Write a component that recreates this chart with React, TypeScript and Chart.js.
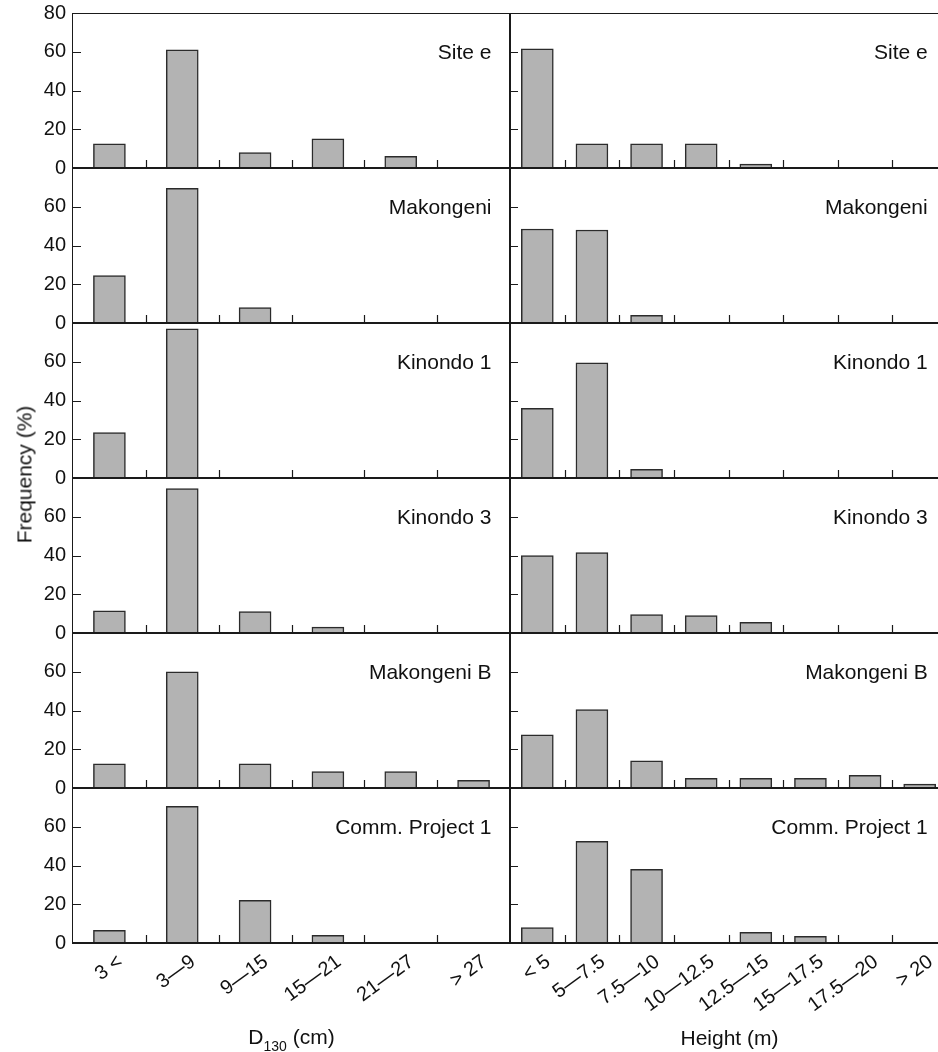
import React, { useEffect, useRef } from 'react';
import { Chart, registerables } from 'chart.js';

Chart.register(...registerables);

// ---------------- data ----------------
const sites = ['Site e', 'Makongeni', 'Kinondo 1', 'Kinondo 3', 'Makongeni B', 'Comm. Project 1'];
const diameterClasses = ['3 <', '3—9', '9—15', '15—21', '21—27', '> 27'];
const heightClasses = ['< 5', '5—7.5', '7.5—10', '10—12.5', '12.5—15', '15—17.5', '17.5—20', '> 20'];
const yTicks = [0, 20, 40, 60, 80];

const siteE_D = [12.5, 61, 8, 15, 6, 0];
const makongeni_D = [24.5, 69.5, 8, 0, 0, 0];
const kinondo1_D = [23.5, 77, 0, 0, 0, 0];
const kinondo3_D = [11.5, 74.5, 11, 3, 0, 0];
const makongeniB_D = [12.5, 60, 12.5, 8.5, 8.5, 4];
const commProject1_D = [6.5, 70.5, 22, 4, 0, 0];

const siteE_H = [61.5, 12.5, 12.5, 12.5, 2, 0, 0, 0];
const makongeni_H = [48.5, 48, 4, 0, 0, 0, 0, 0];
const kinondo1_H = [36, 59.5, 4.5, 0, 0, 0, 0, 0];
const kinondo3_H = [40, 41.5, 9.5, 9, 5.5, 0, 0, 0];
const makongeniB_H = [27.5, 40.5, 14, 5, 5, 5, 6.5, 2];
const commProject1_H = [8, 52.5, 38, 0, 5.5, 3.5, 0, 0];

const diameterSeries = [siteE_D, makongeni_D, kinondo1_D, kinondo3_D, makongeniB_D, commProject1_D];
const heightSeries = [siteE_H, makongeni_H, kinondo1_H, kinondo3_H, makongeniB_H, commProject1_H];

// ---------------- layout / style ----------------
const FONT = "'Liberation Sans', Arial, Helvetica, sans-serif";
const TEXT = '#111111';
const LINE = '#1a1a1a';
const TOP = 13;
const ROW_H = 155;
const LEFT_X = 73;
const MID_X = 510;
const PLOT_W = 437;
const PAD_T = 24;
const PAD_B = 24;
const PAD_R = 10;
const RIGHT_LM = 40;
const X_AXIS_H = 80;
const ROT = 36;

Chart.defaults.font.family = FONT;

function framePlugin(row: number, col: number) {
  return {
    id: 'frame' + row + '_' + col,
    afterDatasetsDraw(chart: any) {
      const { ctx, chartArea, scales } = chart;
      const { left, right, top, bottom } = chartArea;
      const seg = (x1: number, y1: number, x2: number, y2: number) => {
        ctx.beginPath();
        ctx.moveTo(x1, y1);
        ctx.lineTo(x2, y2);
        ctx.stroke();
      };
      ctx.save();
      ctx.strokeStyle = LINE;
      ctx.lineCap = 'butt';
      // inward y ticks
      ctx.lineWidth = 1;
      yTicks
        .filter((v) => v > 0 && v < 80)
        .forEach((v) => {
          const y = Math.round(scales.y.getPixelForValue(v)) + 0.5;
          seg(left, y, left + 8, y);
        });
      // inward x ticks between categories
      const n = chart.data.labels.length;
      ctx.lineWidth = 1.2;
      for (let i = 1; i < n; i++) {
        const x = Math.round((scales.x.getPixelForValue(i - 1) + scales.x.getPixelForValue(i)) / 2) + 0.5;
        seg(x, bottom, x, bottom - 8);
      }
      // vertical axis line
      if (col === 0) {
        ctx.lineWidth = 1;
        seg(left - 0.5, top, left - 0.5, bottom + 1);
      } else {
        ctx.lineWidth = 2;
        seg(left, top, left, bottom + 1);
      }
      // top frame line
      if (row === 0) {
        ctx.lineWidth = 1;
        seg(left - 1, top + 0.5, right, top + 0.5);
      }
      // zero line
      ctx.lineWidth = 2;
      seg(left - 1, bottom, right, bottom);
      ctx.restore();
    },
  };
}

function Panel({ row, col }: { row: number; col: number }) {
  const ref = useRef<HTMLCanvasElement | null>(null);
  const isLeft = col === 0;
  const isBottom = row === 5;
  const canvasLeft = isLeft ? 0 : MID_X - RIGHT_LM;
  const width = isLeft ? LEFT_X + PLOT_W + PAD_R : RIGHT_LM + PLOT_W + PAD_R;
  const height = PAD_T + ROW_H + (isBottom ? X_AXIS_H : PAD_B);
  const canvasTop = TOP + row * ROW_H - PAD_T;

  useEffect(() => {
    const labels = isLeft ? diameterClasses : heightClasses;
    const values = isLeft ? diameterSeries[row] : heightSeries[row];
    const chart = new Chart(ref.current as HTMLCanvasElement, {
      type: 'bar',
      data: {
        labels,
        datasets: [
          {
            data: values,
            backgroundColor: '#b3b3b3',
            borderColor: '#2b2b2b',
            borderWidth: 1.5,
            barThickness: 32,
            borderSkipped: 'start',
          },
        ],
      },
      options: {
        animation: false,
        responsive: false,
        maintainAspectRatio: false,
        events: [],
        layout: {
          padding: {
            top: PAD_T,
            bottom: isBottom ? 0 : PAD_B,
            left: isLeft ? 0 : RIGHT_LM,
            right: PAD_R,
          },
        },
        plugins: {
          legend: { display: false },
          tooltip: { enabled: false },
          title: { display: false },
        },
        scales: {
          x: {
            type: 'category',
            offset: true,
            display: isBottom,
            grid: { display: false, drawTicks: false },
            border: { display: false },
            ticks: {
              autoSkip: false,
              maxRotation: ROT,
              minRotation: ROT,
              padding: 7,
              labelOffset: 11,
              color: TEXT,
              font: { size: 20, family: FONT },
            },
            afterFit: (s: any) => {
              s.height = isBottom ? X_AXIS_H : 0;
            },
          },
          y: {
            min: 0,
            max: 80,
            display: isLeft,
            grid: { display: false, drawTicks: false },
            border: { display: false },
            afterBuildTicks: (s: any) => {
              s.ticks = yTicks.map((v) => ({ value: v }));
            },
            ticks: {
              padding: 7,
              color: TEXT,
              font: { size: 20, family: FONT },
              callback: (v: any) => (row > 0 && Number(v) === 80 ? '' : String(v)),
            },
            afterFit: (s: any) => {
              s.width = isLeft ? LEFT_X : 0;
            },
          },
        },
      } as any,
      plugins: [framePlugin(row, col)],
    });
    return () => chart.destroy();
  }, [row, col]);

  return (
    <canvas
      ref={ref}
      width={width}
      height={height}
      style={{ position: 'absolute', left: canvasLeft, top: canvasTop, width, height }}
    />
  );
}

export default function App() {
  const rows = [0, 1, 2, 3, 4, 5];
  const textBase: React.CSSProperties = {
    position: 'absolute',
    fontFamily: FONT,
    fontSize: 21,
    lineHeight: '21px',
    color: TEXT,
    whiteSpace: 'nowrap',
  };
  return (
    <div
      style={{
        position: 'absolute',
        left: 0,
        top: 0,
        width: 938,
        height: 1052,
        overflow: 'hidden',
        background: '#ffffff',
      }}
    >
      {rows.map((r) => (
        <React.Fragment key={r}>
          <Panel row={r} col={0} />
          <Panel row={r} col={1} />
        </React.Fragment>
      ))}
      {sites.map((s, r) => (
        <React.Fragment key={s}>
          <div style={{ ...textBase, right: 938 - 491.5, top: TOP + r * ROW_H + 28 }}>{s}</div>
          <div style={{ ...textBase, right: 10.3, top: TOP + r * ROW_H + 28 }}>{s}</div>
        </React.Fragment>
      ))}
      <div
        style={{
          ...textBase,
          left: 23.7 - 100,
          top: 474.7 - 10.5,
          width: 200,
          textAlign: 'center',
          transform: 'rotate(-90deg)',
        }}
      >
        Frequency (%)
      </div>
      <div style={{ ...textBase, left: 291.5 - 100, top: 1025.7, width: 200, textAlign: 'center' }}>
        D
        <span style={{ fontSize: 14, position: 'relative', top: 7, lineHeight: 0 }}>130</span> (cm)
      </div>
      <div style={{ ...textBase, left: 729.5 - 100, top: 1027, width: 200, textAlign: 'center' }}>
        Height (m)
      </div>
    </div>
  );
}
